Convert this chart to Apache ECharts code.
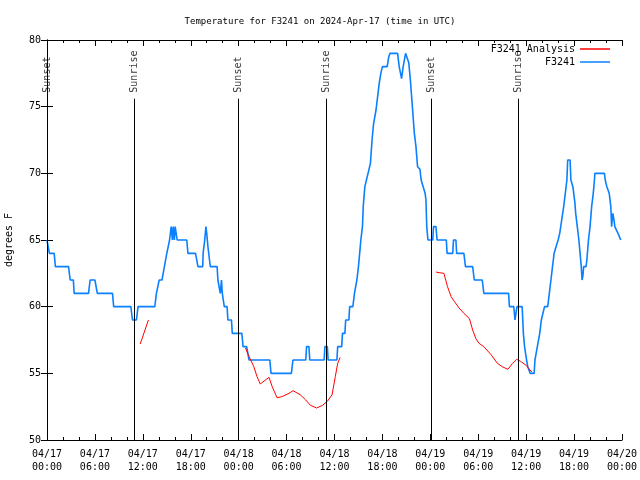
<!DOCTYPE html>
<html><head><meta charset="utf-8">
<script src="https://cdn.jsdelivr.net/npm/echarts@6/dist/echarts.min.js"></script>
<style>html,body{margin:0;padding:0;background:#fff}#c{width:640px;height:480px}</style>
</head><body><div id="c"></div>
<script>
// hours since 2024-04-17 00:00 UTC
const stationHours = [0.0,0.25,0.3,0.9,1.05,2.7,2.9,3.3,3.4,5.2,5.4,6.0,6.3,8.2,8.35,10.5,10.7,11.2,11.4,13.5,13.7,14.05,14.4,14.7,15.0,15.35,15.55,15.7,15.8,15.95,16.05,16.25,16.3,17.5,17.65,18.6,18.9,19.5,19.55,19.75,19.9,20.0,20.15,20.35,20.45,21.3,21.4,21.6,21.7,21.85,21.95,22.2,22.55,22.65,23.1,23.2,24.4,24.55,25.0,25.3,27.9,28.05,30.6,30.8,32.4,32.5,32.8,32.9,34.7,34.8,35.1,35.2,36.3,36.4,36.9,37.0,37.3,37.4,37.8,37.9,38.3,38.5,38.8,39.0,39.15,39.3,39.5,39.6,39.8,40.0,40.15,40.5,40.7,40.9,41.2,41.4,41.6,41.8,42.0,42.6,42.8,42.95,43.9,44.1,44.4,44.6,44.9,45.1,45.3,45.5,45.75,46.0,46.2,46.4,46.7,46.85,47.1,47.35,47.45,47.55,47.7,48.3,48.4,48.7,48.85,50.0,50.1,50.8,50.9,51.2,51.3,52.2,52.4,53.3,53.5,54.5,54.7,57.8,57.9,58.45,58.6,58.75,58.85,59.5,59.65,59.8,60.05,60.2,60.5,61.0,61.1,61.4,61.7,61.9,62.3,62.7,62.9,63.1,63.3,63.5,64.0,64.2,64.4,64.7,64.9,65.1,65.2,65.5,65.6,65.85,66.1,66.2,66.4,66.6,66.9,67.0,67.1,67.2,67.5,67.6,67.8,68.0,68.2,68.4,68.55,68.6,69.8,69.9,70.1,70.4,70.6,70.7,70.85,71.0,71.1,71.3,71.5,71.85];
const stationTemps = [65,65,64,64,63,63,62,62,61,61,62,62,61,61,60,60,59,59,60,60,61,62,62,63,64,65,66,65,66,65,66,66,65,65,64,64,63,63,64,65,66,65.5,64.5,63.5,63,63,62,62,61,62,61,60,60,59,59,58,58,57,57,56,56,55,55,56,56,57,57,56,56,57,57,56,56,57,57,58,58,59,59,60,60,61,62,63,64,65,66,67.5,69,69.5,69.5,70.75,72.5,73.75,74.75,75.75,76.75,77.5,78,78,78.75,79,79,78,77.1,78,79,79,78.3,77,75,73,72,70.5,70.3,69.5,69,68.5,68,66,65,65,66,66,65,65,64,64,65,65,64,64,63,63,62,62,61,61,60,60,59,59,60,60,58,57,56,55.5,55,55,56,57,58,59,60,60,61,62,63,64,65,65.5,66.3,67.5,68.5,69.5,71,71,69.5,69,67.8,67,66,65,63,62,62.3,63,63,63.5,65,66,67.5,68.5,69.5,70,70,69.5,69,68.5,67.5,66,67,66.5,66,66,65.5,65];

// null marks a gap between analysis runs
const analysisHours = [11.67,12.7,12.8,24.85,25.3,25.9,26.3,26.7,27.8,28.2,28.8,29.4,30.3,30.8,31.7,32.4,33.0,33.75,34.5,35.1,35.7,36.1,36.4,36.7,36.8,48.7,49.1,49.7,50.15,50.6,51.0,51.6,52.2,52.9,53.3,53.7,54.1,54.7,55.6,56.4,57.0,57.7,58.3,58.8,59.3,60.0,60.7];
const analysisTemps = [57.2,59.0,null,56.9,56.25,55.5,54.75,54.2,54.7,54.0,53.17,53.25,53.5,53.7,53.4,53.0,52.6,52.4,52.6,52.9,53.4,54.75,55.75,56.2,null,62.6,62.55,62.5,61.5,60.75,60.4,59.9,59.5,59.1,58.25,57.6,57.25,57.0,56.4,55.75,55.5,55.3,55.75,56.05,55.9,55.6,55.1];

const sunHours = [0.05,10.95,24.0,34.97,48.08,59.0];
const sunLabels = ['Sunset','Sunrise','Sunset','Sunrise','Sunset','Sunrise'];
const dayLabels = ['04/17','04/18','04/19','04/20'];

const FONT = 'DejaVu Sans Mono';
const zip = (a,b)=>a.map((v,i)=>[v,b[i]]);
const sunTop = 75.6, sunLabelAt = 76.05;

const chart = echarts.init(document.getElementById('c'));
const tickFmt = v => {
  const d = Math.floor(v/24), hh = v - d*24;
  return dayLabels[d] + '\n' + String(hh).padStart(2,'0') + ':00';
};
const axisCommon = {
  axisLine:{lineStyle:{color:'#000',width:1}},
  axisTick:{inside:true,length:6,lineStyle:{color:'#000'}},
  splitLine:{show:false}
};
chart.setOption({
  animation:false,
  backgroundColor:'#fff',
  title:{text:'Temperature for F3241 on 2024-Apr-17 (time in UTC)',left:'center',top:12,
    textStyle:{fontFamily:FONT,fontSize:9,fontWeight:'normal',color:'#000'}},
  legend:{data:['F3241 Analysis','F3241'],orient:'vertical',right:25,top:39,align:'right',
    icon:'rect',itemWidth:30,itemHeight:1.5,itemGap:3,
    textStyle:{fontFamily:FONT,fontSize:10,color:'#000'}},
  grid:{left:47,right:18,top:40,bottom:40,containLabel:false,outerBoundsMode:'none'},
  xAxis:[
    Object.assign({type:'value',min:0,max:72,interval:6,position:'bottom',
      minorTick:{show:true,splitNumber:3,length:3,lineStyle:{color:'#000'}},
      axisLabel:{formatter:tickFmt,fontFamily:FONT,fontSize:10,color:'#000',lineHeight:13,margin:8}},axisCommon),
    Object.assign({type:'value',min:0,max:72,interval:6,position:'top',
      minorTick:{show:true,splitNumber:3,length:3,lineStyle:{color:'#000'}},
      axisLabel:{show:false}},axisCommon)
  ],
  yAxis:[
    Object.assign({type:'value',min:50,max:80,interval:5,position:'left',
      name:'degrees F',nameLocation:'middle',nameGap:33,nameRotate:90,
      nameTextStyle:{fontFamily:FONT,fontSize:10,color:'#000'},
      axisLabel:{fontFamily:FONT,fontSize:10,color:'#000',margin:6}},axisCommon),
    Object.assign({type:'value',min:50,max:80,interval:5,position:'right',
      axisLabel:{show:false}},axisCommon)
  ],
  series:[
    {name:'F3241 Analysis',type:'line',data:zip(analysisHours,analysisTemps),
      showSymbol:false,connectNulls:false,lineStyle:{color:'#ff0000',width:1},itemStyle:{color:'#ff0000'},z:3},
    {name:'F3241',type:'line',data:zip(stationHours,stationTemps),
      showSymbol:false,lineStyle:{color:'#0a80ff',width:1.6},itemStyle:{color:'#0a80ff'},z:2},
    {name:'sun',type:'scatter',symbolSize:0,data:sunHours.map(h=>[h,sunLabelAt]),silent:true,
      label:{show:true,formatter:p=>sunLabels[p.dataIndex],position:[0,0],rotate:90,
        align:'left',verticalAlign:'middle',distance:0,offset:[0,0],
        fontFamily:FONT,fontSize:10,color:'#000'},
      markLine:{silent:true,symbol:'none',label:{show:false},
        lineStyle:{color:'#000',width:1,type:'solid'},
        data:sunHours.map(h=>[{coord:[h,sunTop]},{coord:[h,50]}])},z:1}
  ]
});
</script></body></html>
